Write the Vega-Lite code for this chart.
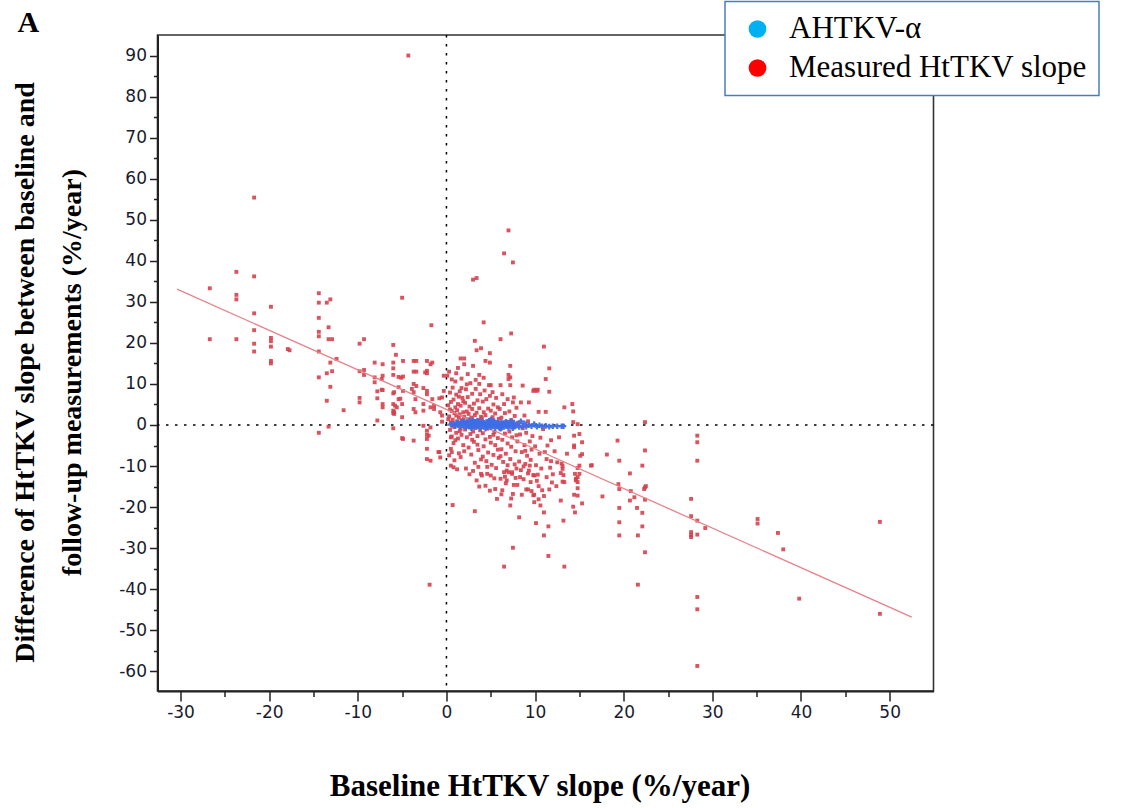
{
  "$schema": "https://vega.github.io/schema/vega-lite/v6.json",
  "width": 776,
  "height": 656,
  "autosize": {"type": "none"},
  "padding": {"left": 157.5, "top": 35, "right": 202.5, "bottom": 117},
  "background": "white",
  "title": {"text": "A", "anchor": "start", "frame": "group", "dx": -140, "dy": 64, "baseline": "alphabetic", "offset": 3, "font": "Liberation Serif", "fontSize": 30, "fontWeight": "bold", "color": "black"},
  "config": {
    "view": {"stroke": "#333", "strokeWidth": 1.6},
    "legend": {"strokeWidth": 1.5},
    "axis": {"grid": false, "labelFont": "DejaVu Sans", "labelFontSize": 17, "labelColor": "#1a1a2e", "domainColor": "#222", "domainWidth": 2, "tickColor": "#222", "tickWidth": 1.5, "labelOverlap": false, "labelFlush": false}
  },
  "datasets": {
    "measured": [
      {"x":-26.7,"y":33.3},{"x":-26.7,"y":20.9},{"x":-23.7,"y":37.3},{"x":-23.7,"y":31.7},{"x":-23.7,"y":30.6},{"x":-23.7,"y":20.9},{"x":-21.7,"y":55.4},{"x":-21.7,"y":36.2},{"x":-21.7,"y":27.2},{"x":-21.7,"y":23.1},{"x":-21.7,"y":19.8},{"x":-21.7,"y":17.9},{"x":-19.8,"y":28.8},{"x":-19.8,"y":21.2},{"x":-19.8,"y":20.4},{"x":-19.8,"y":19.1},{"x":-19.8,"y":15.6},{"x":-19.8,"y":15.0},{"x":-17.9,"y":18.5},{"x":-17.7,"y":18.2},
      {"x":-14.4,"y":32.1},{"x":-14.4,"y":29.8},{"x":-14.4,"y":26.1},{"x":-14.4,"y":22.7},{"x":-14.4,"y":21.6},{"x":-14.4,"y":17.9},{"x":-14.4,"y":11.6},{"x":-14.4,"y":-1.9},{"x":-13.5,"y":29.8},{"x":-13.1,"y":30.6},{"x":-13.3,"y":23.8},{"x":-13.3,"y":20.9},{"x":-12.9,"y":20.9},{"x":-13.1,"y":15.2},{"x":-12.9,"y":13.1},{"x":-13.5,"y":12.6},{"x":-13.1,"y":9.3},{"x":-13.5,"y":5.9},{"x":-13.3,"y":-0.4},{"x":-11.6,"y":3.6},{"x":-12.4,"y":16.1},
      {"x":-9.8,"y":19.8},{"x":-9.3,"y":20.9},{"x":-9.8,"y":13.1},{"x":-9.3,"y":13.4},{"x":-9.3,"y":12.2},{"x":-9.8,"y":6.6},{"x":-9.8,"y":5.5},{"x":-8.1,"y":15.2},{"x":-8.1,"y":11.6},{"x":-8.1,"y":10.4},{"x":-7.8,"y":8.2},{"x":-7.8,"y":6.5},{"x":-7.8,"y":1.1},{"x":-7.2,"y":14.8},{"x":-7.2,"y":12.0},{"x":-7.2,"y":8.5},{"x":-7.2,"y":5.1},{"x":-7.2,"y":4.3},{"x":-7.3,"y":11.2},{"x":-7.3,"y":8.6},
      {"x":-6.0,"y":19.5},{"x":-5.7,"y":17.1},{"x":-6.0,"y":15.2},{"x":-6.0,"y":13.8},{"x":-6.0,"y":12.2},{"x":-6.0,"y":7.7},{"x":-6.0,"y":5.1},{"x":-6.0,"y":3.5},{"x":-6.0,"y":2.9},{"x":-5.4,"y":11.7},{"x":-5.1,"y":11.5},{"x":-4.9,"y":11.8},{"x":-5.4,"y":9.2},{"x":-5.4,"y":6.3},{"x":-5.2,"y":6.4},{"x":-5.0,"y":31.0},{"x":-4.9,"y":15.6},{"x":-4.9,"y":8.3},{"x":-5.0,"y":5.1},{"x":-5.0,"y":1.9},{"x":-6.0,"y":-0.8},{"x":-5.0,"y":-3.2},{"x":-4.9,"y":-3.4},{"x":-5.6,"y":4.3},{"x":-5.9,"y":8.0},{"x":-5.8,"y":4.7},{"x":-5.9,"y":3.1},{"x":-5.9,"y":2.7},
      {"x":-3.7,"y":15.6},{"x":-3.4,"y":15.6},{"x":-2.2,"y":15.6},{"x":-1.6,"y":15.2},{"x":-2.2,"y":13.2},{"x":-2.2,"y":12.6},{"x":-3.7,"y":13.0},{"x":-3.4,"y":13.0},{"x":-3.7,"y":10.0},{"x":-3.4,"y":9.5},{"x":-2.6,"y":9.0},{"x":-3.9,"y":8.8},{"x":-3.7,"y":8.0},{"x":-3.5,"y":6.3},{"x":-1.6,"y":6.3},{"x":-1.8,"y":4.3},{"x":-1.4,"y":3.9},{"x":-3.7,"y":3.9},{"x":-3.5,"y":3.1},{"x":-0.8,"y":6.5},{"x":-0.5,"y":6.7},{"x":-0.5,"y":2.3},{"x":-0.5,"y":0.8},{"x":-1.8,"y":-0.6},{"x":-3.7,"y":-3.8},{"x":-2.2,"y":-2.4},{"x":-2.2,"y":-3.4},{"x":-2.2,"y":-5.8},{"x":-0.8,"y":-6.6},{"x":-2.2,"y":-8.3},{"x":-1.8,"y":-8.7},{"x":-1.7,"y":24.3},{"x":-1.9,"y":-38.9},{"x":-2.2,"y":8.3},{"x":-2.2,"y":7.5},{"x":-0.3,"y":8.3},{"x":-0.3,"y":12.0},{"x":-2.4,"y":12.8},{"x":-1.8,"y":14.8},{"x":-2.6,"y":5.1},{"x":-2.6,"y":3.5},{"x":-1.4,"y":4.7},{"x":-0.7,"y":3.1},{"x":-2.6,"y":-0.2},{"x":-2.2,"y":-1.4},{"x":-2.0,"y":-2.6},{"x":-0.9,"y":-6.6},{"x":-0.7,"y":-7.9},
      {"x":-4.3,"y":90.0},{"x":7.0,"y":47.4},{"x":6.5,"y":41.8},{"x":7.5,"y":39.6},{"x":3.0,"y":35.4},{"x":3.4,"y":35.8},{"x":4.2,"y":25.0},{"x":7.3,"y":22.3},{"x":3.2,"y":20.5},{"x":6.1,"y":20.9},{"x":11.0,"y":19.1},{"x":3.4,"y":18.2},{"x":3.9,"y":18.7},{"x":4.9,"y":17.5},{"x":1.6,"y":16.2},{"x":2.0,"y":16.2},{"x":4.4,"y":15.6},{"x":4.9,"y":15.2},{"x":2.0,"y":14.8},{"x":3.0,"y":14.4},{"x":0.3,"y":13.0},{"x":0.1,"y":12.0},{"x":1.1,"y":12.6},{"x":3.7,"y":12.2},{"x":7.2,"y":14.4},{"x":7.2,"y":11.6},
      {"x":0.5,"y":-3.0},{"x":0.5,"y":-5.8},{"x":0.6,"y":-6.6},{"x":0.5,"y":-9.9},{"x":0.8,"y":-10.3},{"x":0.7,"y":-19.5},{"x":3.2,"y":-21.0},{"x":5.7,"y":-18.0},{"x":8.2,"y":-22.5},{"x":7.5,"y":-29.9},{"x":6.5,"y":-34.5},{"x":3.7,"y":-15.0},{"x":3.4,"y":-13.5},{"x":4.0,"y":-12.3},{"x":4.6,"y":-11.9},{"x":6.1,"y":-13.1},{"x":6.8,"y":-13.5},{"x":7.6,"y":-14.6},{"x":7.0,"y":-11.5},{"x":7.4,"y":-11.9},
      {"x":0.2,"y":4.8},{"x":0.3,"y":2.1},{"x":0.4,"y":7.9},{"x":0.4,"y":-1.2},{"x":0.5,"y":0.6},{"x":0.5,"y":5.6},{"x":0.6,"y":-2.8},{"x":0.6,"y":3.4},{"x":0.7,"y":9.1},{"x":0.7,"y":1.3},{"x":0.8,"y":-4.4},{"x":0.8,"y":6.2},{"x":0.9,"y":2.9},{"x":0.9,"y":-0.5},{"x":1.0,"y":4.3},{"x":1.0,"y":10.6},{"x":1.1,"y":-1.9},{"x":1.1,"y":7.4},{"x":1.2,"y":3.6},{"x":1.2,"y":0.9},{"x":1.3,"y":-3.3},{"x":1.3,"y":5.1},{"x":1.4,"y":1.8},{"x":1.4,"y":-6.9},{"x":1.5,"y":8.2},{"x":1.5,"y":2.6},{"x":1.6,"y":-0.9},{"x":1.6,"y":4.7},{"x":1.7,"y":11.3},{"x":1.7,"y":-2.4},{"x":1.8,"y":6.6},{"x":1.8,"y":0.3},{"x":1.9,"y":3.1},{"x":1.9,"y":-4.9},{"x":0.3,"y":-7.4},{"x":0.9,"y":-8.6},{"x":1.2,"y":-10.8},{"x":1.6,"y":-7.8},{"x":0.6,"y":11.1},{"x":1.3,"y":13.9},{"x":0.2,"y":1.4},{"x":0.7,"y":-0.2},{"x":1.8,"y":1.2},{"x":1.1,"y":2.3},{"x":1.5,"y":-1.5},{"x":1.9,"y":5.8},{"x":0.4,"y":3.8},{"x":1.0,"y":-3.7},{"x":1.7,"y":9.0},{"x":1.4,"y":6.9},
      {"x":2.0,"y":2.0},{"x":2.1,"y":-1.1},{"x":2.1,"y":5.4},{"x":2.2,"y":8.7},{"x":2.2,"y":0.5},{"x":2.3,"y":-3.0},{"x":2.3,"y":3.3},{"x":2.4,"y":1.4},{"x":2.4,"y":6.8},{"x":2.5,"y":-5.5},{"x":2.5,"y":2.7},{"x":2.6,"y":-0.4},{"x":2.6,"y":4.5},{"x":2.7,"y":10.2},{"x":2.7,"y":-2.2},{"x":2.8,"y":1.8},{"x":2.8,"y":-7.2},{"x":2.9,"y":3.9},{"x":2.9,"y":7.6},{"x":3.0,"y":-1.6},{"x":3.0,"y":0.9},{"x":3.1,"y":5.2},{"x":3.1,"y":-4.1},{"x":3.2,"y":2.4},{"x":3.2,"y":-9.2},{"x":3.3,"y":11.0},{"x":3.3,"y":-0.7},{"x":3.4,"y":3.0},{"x":3.5,"y":6.0},{"x":3.5,"y":-2.7},{"x":3.6,"y":1.2},{"x":3.6,"y":-6.1},{"x":3.7,"y":10.0},{"x":3.7,"y":4.1},{"x":3.8,"y":-1.3},{"x":3.8,"y":7.5},{"x":3.9,"y":-8.4},{"x":3.9,"y":2.0},{"x":2.2,"y":-10.6},{"x":2.6,"y":-12.0},{"x":3.0,"y":-11.2},{"x":2.4,"y":12.4},{"x":2.9,"y":-3.6},{"x":3.5,"y":-4.8},{"x":2.0,"y":-6.4},{"x":3.3,"y":8.8},{"x":2.7,"y":0.0},{"x":3.6,"y":-10.2},{"x":2.3,"y":9.9},{"x":3.9,"y":-11.9},
      {"x":4.0,"y":1.6},{"x":4.1,"y":-2.0},{"x":4.1,"y":5.7},{"x":4.2,"y":3.1},{"x":4.2,"y":-5.2},{"x":4.3,"y":0.4},{"x":4.3,"y":8.4},{"x":4.4,"y":-3.5},{"x":4.4,"y":2.4},{"x":4.5,"y":-8.8},{"x":4.5,"y":6.3},{"x":4.6,"y":-0.9},{"x":4.7,"y":4.0},{"x":4.7,"y":-6.7},{"x":4.8,"y":9.7},{"x":4.8,"y":1.0},{"x":4.9,"y":-2.9},{"x":4.9,"y":7.1},{"x":5.0,"y":-12.3},{"x":5.0,"y":-4.3},{"x":5.0,"y":3.5},{"x":5.1,"y":-0.2},{"x":5.1,"y":-9.7},{"x":5.2,"y":8.0},{"x":5.2,"y":1.9},{"x":5.3,"y":-7.3},{"x":5.3,"y":5.0},{"x":5.4,"y":-1.7},{"x":5.4,"y":-13.0},{"x":5.5,"y":2.8},{"x":5.5,"y":-4.9},{"x":5.6,"y":6.6},{"x":5.6,"y":-10.5},{"x":5.7,"y":0.6},{"x":5.8,"y":-3.2},{"x":5.8,"y":4.3},{"x":5.9,"y":-8.0},{"x":5.9,"y":1.5},{"x":4.4,"y":-14.8},{"x":4.9,"y":-16.0},{"x":5.5,"y":-15.6},{"x":4.2,"y":11.5},{"x":5.0,"y":9.7},{"x":5.8,"y":-6.0},{"x":4.6,"y":-10.2},{"x":5.3,"y":-2.4},{"x":4.1,"y":-7.7},
      {"x":6.0,"y":3.9},{"x":6.1,"y":-1.0},{"x":6.1,"y":9.7},{"x":6.2,"y":-5.9},{"x":6.2,"y":1.8},{"x":6.3,"y":7.5},{"x":6.3,"y":-3.6},{"x":6.4,"y":-9.0},{"x":6.4,"y":0.3},{"x":6.5,"y":5.1},{"x":6.5,"y":-11.5},{"x":6.6,"y":-2.1},{"x":6.6,"y":2.9},{"x":6.7,"y":-7.0},{"x":6.7,"y":-14.2},{"x":6.8,"y":0.8},{"x":6.9,"y":6.3},{"x":6.9,"y":-4.5},{"x":7.0,"y":12.2},{"x":7.0,"y":11.2},{"x":7.1,"y":-1.6},{"x":7.1,"y":3.3},{"x":7.2,"y":9.7},{"x":7.2,"y":-8.3},{"x":7.3,"y":-5.3},{"x":7.3,"y":1.2},{"x":7.4,"y":-3.0},{"x":7.5,"y":5.5},{"x":7.5,"y":-16.8},{"x":7.6,"y":-0.4},{"x":7.7,"y":-9.6},{"x":7.7,"y":2.2},{"x":7.8,"y":-6.4},{"x":7.8,"y":-12.9},{"x":7.9,"y":4.2},{"x":7.9,"y":-2.5},{"x":6.3,"y":-15.9},{"x":6.9,"y":-9.8},{"x":7.3,"y":-17.9},{"x":6.1,"y":-7.6},{"x":7.6,"y":6.7},{"x":6.6,"y":-12.6},{"x":7.9,"y":-10.6},{"x":6.2,"y":-16.9},{"x":7.2,"y":-19.6},{"x":6.8,"y":-11.1},{"x":7.4,"y":-11.5},
      {"x":8.0,"y":-14.6},{"x":8.0,"y":-4.0},{"x":8.1,"y":0.6},{"x":8.2,"y":-8.9},{"x":8.3,"y":-2.3},{"x":8.4,"y":5.5},{"x":8.4,"y":-11.0},{"x":8.5,"y":-6.6},{"x":8.5,"y":-17.0},{"x":8.6,"y":9.6},{"x":8.6,"y":-0.8},{"x":8.7,"y":-13.2},{"x":8.8,"y":-4.9},{"x":8.8,"y":2.3},{"x":8.9,"y":-9.5},{"x":9.0,"y":-15.7},{"x":9.0,"y":-1.9},{"x":9.1,"y":-7.5},{"x":9.2,"y":-11.8},{"x":9.2,"y":0.9},{"x":9.3,"y":-11.1},{"x":9.3,"y":5.5},{"x":9.4,"y":-4.0},{"x":9.5,"y":-13.9},{"x":9.5,"y":-8.5},{"x":9.6,"y":-16.1},{"x":9.7,"y":-2.7},{"x":9.8,"y":-12.2},{"x":9.8,"y":8.3},{"x":9.9,"y":-12.3},{"x":9.9,"y":-17.0},{"x":9.9,"y":-18.8},{"x":9.9,"y":8.6},{"x":9.2,"y":-15.7},{"x":8.9,"y":-6.3},{"x":8.3,"y":-12.7},{"x":9.6,"y":-6.0},{"x":8.7,"y":-10.1},{"x":9.4,"y":-9.9},{"x":9.8,"y":-17.1},
      {"x":10.0,"y":-5.2},{"x":10.1,"y":-23.9},{"x":10.1,"y":-9.8},{"x":10.2,"y":8.3},{"x":10.3,"y":8.6},{"x":10.3,"y":-12.1},{"x":10.4,"y":3.2},{"x":10.4,"y":-18.1},{"x":10.4,"y":-14.9},{"x":10.5,"y":-7.0},{"x":10.6,"y":-3.1},{"x":10.7,"y":-10.6},{"x":10.8,"y":-15.9},{"x":10.9,"y":-1.0},{"x":11.0,"y":-26.9},{"x":11.0,"y":-21.3},{"x":11.0,"y":-17.3},{"x":11.2,"y":3.2},{"x":11.2,"y":11.2},{"x":11.3,"y":-12.7},{"x":11.3,"y":-8.3},{"x":11.4,"y":-5.0},{"x":11.5,"y":-31.9},{"x":11.5,"y":-24.7},{"x":11.6,"y":-15.7},{"x":11.6,"y":13.8},{"x":11.6,"y":8.1},{"x":11.7,"y":-10.4},{"x":11.8,"y":-3.7},{"x":11.9,"y":-14.0},{"x":10.6,"y":-19.6},{"x":11.1,"y":-6.6},{"x":10.2,"y":-13.6},{"x":11.8,"y":-8.8},
      {"x":12.0,"y":-12.0},{"x":12.2,"y":-6.4},{"x":12.4,"y":-14.9},{"x":12.5,"y":-9.1},{"x":12.7,"y":-3.0},{"x":12.9,"y":-11.7},{"x":12.9,"y":-18.4},{"x":13.0,"y":-9.4},{"x":13.1,"y":-10.0},{"x":13.1,"y":-10.7},{"x":13.1,"y":-13.8},{"x":13.2,"y":-12.2},{"x":13.2,"y":-23.3},{"x":13.3,"y":-13.9},{"x":13.3,"y":-34.5},{"x":13.3,"y":4.3},{"x":13.6,"y":-7.0},{"x":14.2,"y":5.1},{"x":14.3,"y":3.3},{"x":14.3,"y":-19.9},{"x":14.3,"y":0.7},{"x":14.4,"y":-2.6},{"x":14.4,"y":-5.0},{"x":14.4,"y":-5.4},{"x":14.4,"y":-17.0},{"x":14.5,"y":-21.3},{"x":14.5,"y":-11.9},{"x":14.6,"y":-13.1},{"x":14.6,"y":-13.5},{"x":14.8,"y":0.2},{"x":14.8,"y":-10.5},{"x":14.8,"y":-12.7},{"x":14.8,"y":-13.9},{"x":14.8,"y":-15.4},{"x":14.8,"y":-17.2},{"x":15.0,"y":-9.9},{"x":15.0,"y":-11.9},{"x":15.0,"y":-2.2},{"x":15.1,"y":-7.5},{"x":15.3,"y":-7.1},{"x":15.3,"y":-4.2},{"x":15.3,"y":-19.1},
      {"x":16.3,"y":-9.9},{"x":16.4,"y":-9.8},{"x":17.6,"y":-17.4},{"x":18.1,"y":-7.2},{"x":19.3,"y":-3.8},{"x":19.5,"y":-8.7},{"x":19.4,"y":-14.4},{"x":19.5,"y":-15.6},{"x":19.5,"y":-20.2},{"x":19.5,"y":-23.7},{"x":19.5,"y":-26.9},{"x":20.7,"y":-11.8},{"x":20.8,"y":-16.1},{"x":21.2,"y":-17.6},{"x":20.7,"y":-18.4},{"x":21.5,"y":-20.2},{"x":22.1,"y":-21.4},{"x":22.1,"y":-24.7},{"x":21.6,"y":-26.9},{"x":22.4,"y":-31.0},{"x":21.6,"y":-38.9},{"x":22.1,"y":-9.9},{"x":22.4,"y":-6.2},{"x":22.4,"y":0.7},{"x":22.5,"y":-14.9},{"x":22.3,"y":-15.6},{"x":22.4,"y":-18.2},{"x":22.4,"y":-15.2},
      {"x":27.6,"y":-18.0},{"x":27.6,"y":-22.2},{"x":27.6,"y":-26.1},{"x":27.6,"y":-26.8},{"x":27.6,"y":-27.3},{"x":28.3,"y":-2.6},{"x":28.3,"y":-4.2},{"x":28.3,"y":-8.7},{"x":28.3,"y":-23.3},{"x":28.3,"y":-26.7},{"x":29.2,"y":-25.1},{"x":28.3,"y":-41.9},{"x":28.3,"y":-44.9},{"x":28.3,"y":-58.7},{"x":35.1,"y":-22.9},{"x":35.1,"y":-24.0},{"x":37.4,"y":-26.3},{"x":38.0,"y":-30.3},{"x":39.8,"y":-42.3},{"x":48.9,"y":-23.6},{"x":48.9,"y":-46.0}
    ],
    "ahtkv": [
      {"x":0.5,"y":0.1},{"x":0.8,"y":0.3},{"x":1.0,"y":-0.2},{"x":1.2,"y":0.5},{"x":1.3,"y":0.0},{"x":1.5,"y":-0.4},{"x":1.6,"y":0.7},{"x":1.7,"y":0.2},{"x":1.9,"y":-0.1},{"x":2.0,"y":0.9},{"x":2.1,"y":0.4},{"x":2.2,"y":-0.6},{"x":2.3,"y":0.1},{"x":2.4,"y":0.6},{"x":2.5,"y":-0.3},{"x":2.6,"y":1.0},{"x":2.7,"y":0.3},{"x":2.8,"y":-0.8},{"x":2.9,"y":0.5},{"x":3.0,"y":-0.2},{"x":3.1,"y":0.8},{"x":3.2,"y":0.1},{"x":3.3,"y":-0.5},{"x":3.4,"y":0.4},{"x":3.5,"y":1.1},{"x":3.6,"y":-0.1},{"x":3.7,"y":0.6},{"x":3.8,"y":-0.7},{"x":3.9,"y":0.2},{"x":4.0,"y":0.9},{"x":4.1,"y":-0.3},{"x":4.2,"y":0.5},{"x":4.3,"y":0.0},{"x":4.4,"y":-0.9},{"x":4.5,"y":0.7},{"x":4.6,"y":0.2},{"x":4.7,"y":-0.4},{"x":4.8,"y":1.0},{"x":4.9,"y":0.3},{"x":5.0,"y":-0.6},{"x":5.1,"y":0.5},{"x":5.2,"y":-0.1},{"x":5.3,"y":0.8},{"x":5.4,"y":0.1},{"x":5.5,"y":-0.7},{"x":5.6,"y":0.4},{"x":5.7,"y":-0.2},{"x":5.8,"y":0.6},{"x":5.9,"y":-0.4},{"x":6.0,"y":0.2},{"x":6.1,"y":-0.9},{"x":6.2,"y":0.7},{"x":6.3,"y":-0.1},{"x":6.4,"y":0.4},{"x":6.5,"y":-0.5},{"x":6.6,"y":0.1},{"x":6.7,"y":0.8},{"x":6.8,"y":-0.3},{"x":6.9,"y":0.3},{"x":7.0,"y":-0.6},{"x":7.1,"y":0.5},{"x":7.2,"y":-0.1},{"x":7.4,"y":0.2},{"x":7.5,"y":-0.8},{"x":7.6,"y":0.6},{"x":7.8,"y":-0.2},{"x":8.0,"y":0.1},{"x":8.2,"y":-0.5},{"x":8.4,"y":0.9},{"x":8.6,"y":-0.2},{"x":8.8,"y":0.4},{"x":9.0,"y":-0.4},{"x":9.3,"y":0.0},{"x":9.6,"y":-0.3},{"x":9.9,"y":0.2},{"x":10.2,"y":-0.4},{"x":10.5,"y":-0.1},{"x":10.8,"y":-0.3},{"x":11.2,"y":-0.2},{"x":11.6,"y":-0.4},{"x":12.0,"y":-0.3},{"x":12.5,"y":-0.3},{"x":13.0,"y":-0.3},{"x":13.2,"y":-0.3},{"x":1.8,"y":0.6},{"x":2.9,"y":-0.4},{"x":3.5,"y":0.3},{"x":4.6,"y":-0.2},{"x":5.4,"y":0.9},{"x":6.3,"y":0.3},{"x":7.3,"y":0.9},{"x":3.0,"y":1.2},{"x":5.0,"y":1.3},{"x":2.2,"y":0.1}
    ],
    "fit": [{"x":-30.4,"y":33.1},{"x":52.5,"y":-46.8}],
    "zero": [{"v":0}],
    "series": [{"series":"AHTKV-α"},{"series":"Measured HtTKV slope"}]
  },
  "resolve": {"axis": {"x": "independent", "y": "independent"}},
  "layer": [
    {
      "data": {"name": "zero"},
      "mark": {"type": "rule", "color": "black", "strokeWidth": 1.5, "strokeDash": [2.5, 6.5]},
      "encoding": {
        "x": {"field": "v", "type": "quantitative", "scale": {"domain": [-32.6, 54.95], "nice": false, "zero": false},
              "axis": {"orient": "bottom", "values": [-25, -15, -5, 5, 15, 25, 35, 45], "labels": false, "tickSize": 5.5, "domain": false, "title": null}}
      }
    },
    {
      "data": {"name": "zero"},
      "mark": {"type": "rule", "color": "black", "strokeWidth": 1.5, "strokeDash": [2.5, 6.5]},
      "encoding": {
        "y": {"field": "v", "type": "quantitative", "scale": {"domain": [-64.8, 95.0], "nice": false, "zero": false},
              "axis": {"orient": "left", "values": [-55, -45, -35, -25, -15, -5, 5, 15, 25, 35, 45, 55, 65, 75, 85], "labels": false, "tickSize": 4, "domain": false, "title": null}}
      }
    },
    {
      "data": {"name": "measured"},
      "mark": {"type": "point", "shape": "square", "filled": true, "size": 15, "color": "#d6404e", "opacity": 0.9},
      "encoding": {
        "x": {"field": "x", "type": "quantitative", "scale": {"domain": [-32.6, 54.95], "nice": false, "zero": false},
              "axis": {"orient": "bottom", "values": [-30, -20, -10, 0, 10, 20, 30, 40, 50], "tickSize": 10, "labelPadding": 3,
                       "labelExpr": "datum.value < 0 ? '-' + abs(datum.value) : '' + datum.value",
                       "title": "Baseline HtTKV slope (%/year)", "titleFont": "Liberation Serif", "titleFontSize": 31, "titleFontWeight": "bold", "titleColor": "black",
                       "titleX": 382, "titleY": 104, "titleBaseline": "alphabetic", "titleAlign": "center"}},
        "y": {"field": "y", "type": "quantitative", "scale": {"domain": [-64.8, 95.0], "nice": false, "zero": false},
              "axis": {"orient": "left", "values": [-60, -50, -40, -30, -20, -10, 0, 10, 20, 30, 40, 50, 60, 70, 80, 90], "tickSize": 8, "labelPadding": 3,
                       "labelExpr": "datum.value < 0 ? '-' + abs(datum.value) : '' + datum.value",
                       "title": ["Difference of HtTKV slope between baseline and", "follow-up measurements (%/year)"],
                       "titleFont": "Liberation Serif", "titleFontSize": 28, "titleFontWeight": "bold", "titleColor": "black",
                       "titleAngle": -90, "titleX": -124.5, "titleY": 337, "titleBaseline": "alphabetic", "titleAlign": "center", "titleLineHeight": 47}}
      }
    },
    {
      "data": {"name": "fit"},
      "mark": {"type": "line", "color": "#e8828a", "strokeWidth": 1.3},
      "encoding": {
        "x": {"field": "x", "type": "quantitative", "scale": {"domain": [-32.6, 54.95], "nice": false, "zero": false}, "axis": null},
        "y": {"field": "y", "type": "quantitative", "scale": {"domain": [-64.8, 95.0], "nice": false, "zero": false}, "axis": null}
      }
    },
    {
      "data": {"name": "ahtkv"},
      "mark": {"type": "point", "shape": "cross", "filled": true, "size": 32, "color": "#3d6ee6", "opacity": 0.95},
      "encoding": {
        "x": {"field": "x", "type": "quantitative", "scale": {"domain": [-32.6, 54.95], "nice": false, "zero": false}, "axis": null},
        "y": {"field": "y", "type": "quantitative", "scale": {"domain": [-64.8, 95.0], "nice": false, "zero": false}, "axis": null}
      }
    },
    {
      "data": {"name": "series"},
      "mark": {"type": "point", "filled": true, "opacity": 0},
      "encoding": {
        "color": {"field": "series", "type": "nominal",
                  "scale": {"domain": ["AHTKV-α", "Measured HtTKV slope"], "range": ["#00b0f0", "#ff0000"]},
                  "legend": {"orient": "none", "legendX": 567.5, "legendY": -33.5, "title": "\u00a0\u00a0\u00a0\u00a0\u00a0\u00a0\u00a0\u00a0\u00a0\u00a0\u00a0\u00a0\u00a0\u00a0", "titleOrient": "right", "titlePadding": 0,
                             "titleFontSize": 31, "titleFont": "Liberation Serif", "titleLimit": 0,
                             "symbolType": "circle", "symbolSize": 314, "symbolOpacity": 1,
                             "symbolStrokeWidth": 0, "symbolOffset": 5, "labelOffset": 16, "labelFont": "Liberation Serif", "labelFontSize": 31,
                             "labelColor": "black", "labelLimit": 0, "padding": 12, "rowPadding": 7, "strokeColor": "#4a7ebb", "fillColor": "white"}}
      }
    }
  ]
}
